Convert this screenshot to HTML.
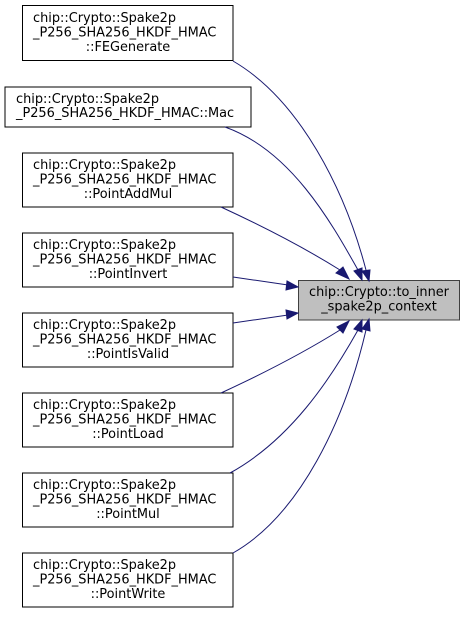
<!DOCTYPE html>
<html><head><style>body{margin:0;background:#fff}</style></head><body>
<svg width="465" height="613" xmlns="http://www.w3.org/2000/svg" font-family="DejaVu Sans, Liberation Sans, sans-serif" font-size="12.9">
<g fill="#fff" stroke="#000" stroke-width="1">
<rect x="22.5" y="5.5" width="210.5" height="55"/>
<rect x="5" y="87" width="246" height="40"/>
<rect x="22.5" y="153" width="210.5" height="54"/>
<rect x="22.5" y="233" width="210.5" height="54"/>
<rect x="22.5" y="313" width="210.5" height="54"/>
<rect x="22.5" y="393" width="210.5" height="54"/>
<rect x="22.5" y="473" width="210.5" height="54"/>
<rect x="22.5" y="553" width="210.5" height="54"/>
<rect x="298.5" y="280.5" width="161" height="39.5" fill="#bfbfbf" stroke="#404040"/>
</g>
<g fill="#000">
<text x="33" y="22">chip::Crypto::Spake2p</text><text x="33" y="36.5">_P256_SHA256_HKDF_HMAC</text><text x="128" y="51" text-anchor="middle">::FEGenerate</text>
<text x="16" y="103">chip::Crypto::Spake2p</text><text x="16" y="117">_P256_SHA256_HKDF_HMAC::Mac</text>
<text x="33" y="169">chip::Crypto::Spake2p</text><text x="33" y="183.5">_P256_SHA256_HKDF_HMAC</text><text x="128" y="198" text-anchor="middle">::PointAddMul</text>
<text x="33" y="249">chip::Crypto::Spake2p</text><text x="33" y="263.5">_P256_SHA256_HKDF_HMAC</text><text x="128" y="278" text-anchor="middle">::PointInvert</text>
<text x="33" y="329">chip::Crypto::Spake2p</text><text x="33" y="343.5">_P256_SHA256_HKDF_HMAC</text><text x="128" y="358" text-anchor="middle">::PointIsValid</text>
<text x="33" y="409">chip::Crypto::Spake2p</text><text x="33" y="423.5">_P256_SHA256_HKDF_HMAC</text><text x="128" y="438" text-anchor="middle">::PointLoad</text>
<text x="33" y="489">chip::Crypto::Spake2p</text><text x="33" y="503.5">_P256_SHA256_HKDF_HMAC</text><text x="128" y="518" text-anchor="middle">::PointMul</text>
<text x="33" y="569">chip::Crypto::Spake2p</text><text x="33" y="583.5">_P256_SHA256_HKDF_HMAC</text><text x="128" y="598" text-anchor="middle">::PointWrite</text>
<text x="379" y="296" text-anchor="middle">chip::Crypto::to_inner</text><text x="379" y="310.5" text-anchor="middle">_spake2p_context</text>
</g>
<g fill="none" stroke="#191970" stroke-width="1">
<path d="M233,61 C300,100 345,190 366,270"/>
<path d="M225,127 C290,150 330,220 358,270"/>
<path d="M221,207 C260,225 300,245 340,270"/>
<path d="M233,277 L288,285"/>
<path d="M233,323 L288,315"/>
<path d="M221,393 C260,375 300,355 340,330"/>
<path d="M230,473 C290,440 330,380 358,330"/>
<path d="M233,553 C300,515 345,420 366,330"/>
</g>
<g fill="#191970" stroke="#191970">
<polygon points="362,271 370,270 369,281"/>
<polygon points="354,271 362,268 362,280"/>
<polygon points="336,273 343,267 349,279"/>
<polygon points="287,281 298,287 286,290"/>
<polygon points="286,310 298,313 287,319"/>
<polygon points="337,327 349,321 343,333"/>
<polygon points="354,329 362,320 362,332"/>
<polygon points="362,329 369,319 370,331"/>
</g>
</svg>
</body></html>
